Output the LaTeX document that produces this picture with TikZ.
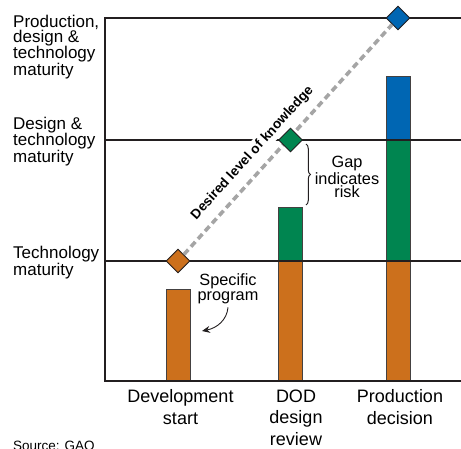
\documentclass[tikz,border=0pt]{standalone}
\usepackage{fontspec}
\setmainfont{Liberation Sans}
\usetikzlibrary{shapes.geometric,decorations.pathreplacing,arrows.meta}
\definecolor{gorange}{RGB}{204,112,28}
\definecolor{ggreen}{RGB}{0,133,80}
\definecolor{gblue}{RGB}{0,102,179}
\definecolor{ggray}{RGB}{165,165,165}
\definecolor{gline}{RGB}{35,31,32}
\begin{document}
\begin{tikzpicture}[x=1pt,y=-1pt,
  bar/.style={draw=gline!85, line width=0.9pt},
  gridline/.style={draw=gline, line width=2pt},
  dia/.style={diamond, draw=gline, line width=0.9pt, minimum width=24pt, minimum height=24pt, inner sep=0pt},
  ylab/.style={align=left, anchor=north west, inner sep=0pt, font=\fontsize{17}{15}\selectfont},
  xlab/.style={align=center, anchor=north, inner sep=0pt, font=\fontsize{18}{21.5}\selectfont},
  note/.style={align=center, inner sep=0pt, font=\fontsize{16.3}{13.3}\selectfont},
]
\useasboundingbox (0,0) rectangle (461,449);
% bars
\draw[bar, fill=gorange] (166,289) rectangle (190,381);
\draw[bar, fill=gorange] (278,261) rectangle (302,381);
\draw[bar, fill=ggreen]  (278,207) rectangle (302,261);
\draw[bar, fill=gorange] (386,261) rectangle (410,381);
\draw[bar, fill=ggreen]  (386,140) rectangle (410,261);
\draw[bar, fill=gblue]   (386,76)  rectangle (410,140);
% grid lines and axes
\draw[gridline] (105,18) -- (461,18);
\draw[gridline] (105,140) -- (461,140);
\draw[gridline] (105,261) -- (461,261);
\draw[gridline, line cap=rect] (105,18) -- (105,381) -- (461,381);
% label of the desired line (white backing breaks the grid line)
\node[rotate=47.8, fill=white, inner sep=2.6pt, font=\bfseries\fontsize{13.6}{14}\selectfont] (dlk) at (252.5,153) {Desired level of knowledge};
% diamonds and desired level line
\node[dia, fill=gorange] (d1) at (178,261) {};
\node[dia, fill=gblue] (d3) at (398,18) {};
\draw[ggray, line width=3.6pt, dash pattern=on 6.5pt off 4pt] (d1) -- (d3);
\node[dia, fill=ggreen] (d2) at (290.5,140) {};
% brace and gap text
\coordinate (bt) at (306,144);
\coordinate (bb) at (306,205);
\draw[gline, line width=1pt, decorate, decoration={brace, amplitude=4.5pt}] (bt) -- (bb);
\node[note] (gap) at (347,177) {Gap\\indicates\\risk};
% specific program
\node[note, font=\fontsize{16.3}{15}\selectfont] (sp) at (228,289) {Specific\\program};
\coordinate (spt) at (202,331);
\draw[gline, line width=0.9pt, -{Stealth[length=8pt,width=7pt]}] (sp.south) ++(0,3) .. controls (227,320) and (217,328) .. (spt);
% y labels
\node[ylab] (yl1) at (13,14.5) {Production,\\design \&\\technology\\maturity};
\node[ylab] (yl2) at (13,116.5) {Design \&\\technology\\maturity};
\node[ylab] (yl3) at (13,246) {Technology\\maturity};
% x labels
\node[xlab] (xl1) at (180.5,389.5) {Development\\start};
\node[xlab] (xl2) at (296,389.5) {DOD\\design\\review};
\node[xlab] (xl3) at (400,389.5) {Production\\decision};
% source
\node[anchor=north west, inner sep=0pt, font=\fontsize{13.5}{14}\selectfont] (src) at (13,441) {Source: GAO};
\end{tikzpicture}
\end{document}
